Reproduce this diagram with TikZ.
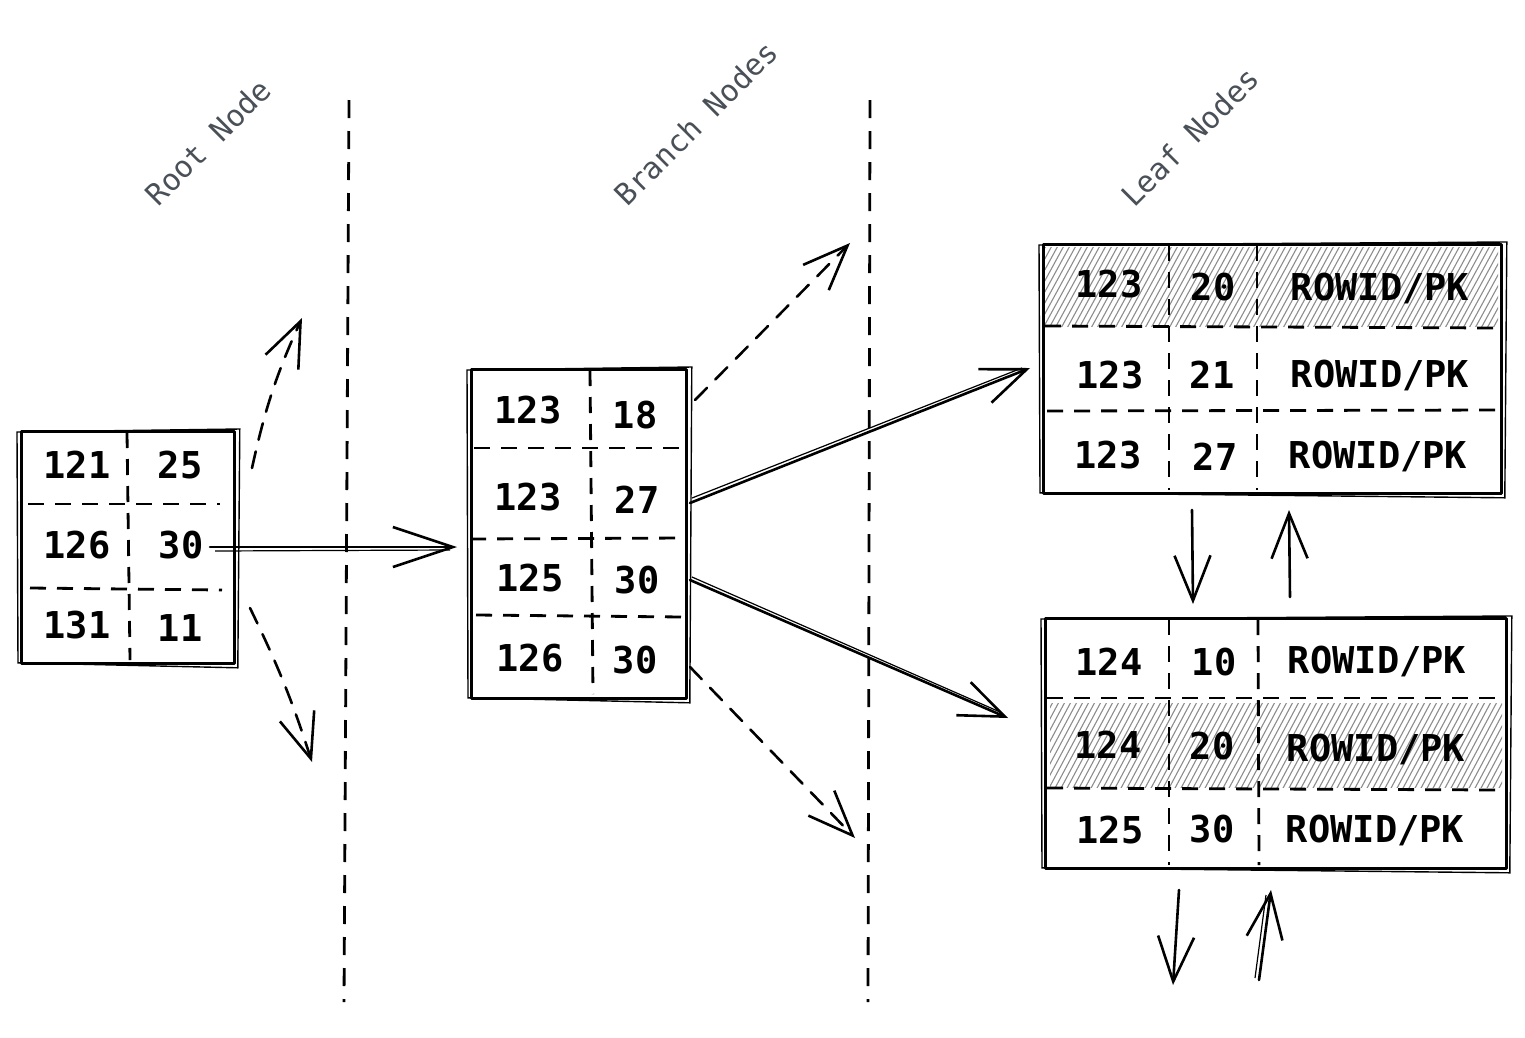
\documentclass[tikz,border=0pt]{standalone}
\usepackage{fontspec}
\setmonofont{DejaVu Sans Mono}
\usetikzlibrary{arrows.meta}
\definecolor{labelgray}{HTML}{495057}
\definecolor{hatchgray}{HTML}{8C8C8C}
\tikzset{
  x=1pt, y=-1pt,
  cell/.style={font=\ttfamily\bfseries\fontsize{37}{40}\selectfont, inner sep=0pt, anchor=center},
  lbl/.style={font=\ttfamily\fontsize{30}{34}\selectfont, text=labelgray, rotate=45, inner sep=0pt},
  boxframe/.style={draw, line width=2.8pt, line join=round, inner sep=0pt, anchor=north west},
  frame2/.style={line width=1.4pt},
  divider/.style={line width=2.8pt, dash pattern=on 16pt off 11pt},
  sepline/.style={line width=2.8pt, dash pattern=on 18pt off 13pt},
  link/.style={line width=2.6pt, line cap=round, -{Straight Barb[length=45pt,width=36pt]}},
  dlink/.style={link, dash pattern=on 17pt off 12pt},
  hatch/.style={hatchgray, line width=1.1pt},
}
\begin{document}
\begin{tikzpicture}
\useasboundingbox (0,0) rectangle (1525,1037);

% ---------- labels ----------
\node[lbl] (lroot) at (208,142) {Root Node};
\node[lbl] (lbranch) at (696,123) {Branch Nodes};
\node[lbl] (lleaf) at (1190,137) {Leaf Nodes};

% ---------- separators ----------
\coordinate (s1t) at (349,100); \coordinate (s1b) at (344,1002);
\coordinate (s2t) at (870,100); \coordinate (s2b) at (868,1002);
\draw[sepline] (s1t) -- (s1b);
\draw[sepline] (s2t) -- (s2b);

% ---------- hatching ----------
\begin{scope}
  \clip (1045,247) rectangle (1498,326);
  \foreach \i in {0,6,...,520} { \draw[hatch] (1000+\i,330) -- ++(48,-88); }
\end{scope}
\begin{scope}
  \clip (1050,703) rectangle (1502,787);
  \foreach \i in {0,6,...,520} { \draw[hatch] (1000+\i,790) -- ++(48,-90); }
\end{scope}

% ---------- boxes ----------
\node[boxframe, minimum width=213pt, minimum height=232pt] (root) at (20,430) {};
\node[boxframe, minimum width=215pt, minimum height=329pt] (branch) at (470,368) {};
\node[boxframe, minimum width=458pt, minimum height=249pt] (leafA) at (1042,243) {};
\node[boxframe, minimum width=461pt, minimum height=250pt] (leafB) at (1044,617) {};
\foreach \b in {root,branch,leafA,leafB} {
  \draw[frame2] ([shift={(-3,2)}]\b.north west) -- ([shift={(4,-1)}]\b.north east)
     -- ([shift={(2,3)}]\b.south east) -- ([shift={(-2,-2)}]\b.south west) -- cycle;
}

% ---------- dividers ----------
% root
\draw[divider] (28,504) -- (220,504);
\draw[divider] (30,588) -- (222,590);
\draw[divider] (127,432) -- (130,660);
% branch
\draw[divider] (474,448) -- (688,448);
\draw[divider] (470,539) -- (684,538);
\draw[divider] (476,615) -- (684,617);
\draw[divider] (590,370) -- (593,694);
% leaf A
\draw[divider] (1045,326) -- (1500,328);
\draw[divider] (1047,411) -- (1502,410);
\draw[divider] (1169,245) -- (1169,490);
\draw[divider] (1257,245) -- (1257,490);
% leaf B
\draw[divider] (1047,698) -- (1500,698);
\draw[divider] (1047,788) -- (1502,790);
\draw[divider] (1169,619) -- (1169,865);
\draw[divider] (1258,619) -- (1259,865);

% ---------- cell texts ----------
\node[cell] (r11) at (77,465) {121};  \node[cell] (r12) at (180,465) {25};
\node[cell] (r21) at (77,545) {126};  \node[cell] (r22) at (181,545) {30};
\node[cell] (r31) at (77,625) {131};  \node[cell] (r32) at (180,628) {11};

\node[cell] (b11) at (528,410) {123}; \node[cell] (b12) at (635,415) {18};
\node[cell] (b21) at (528,497) {123}; \node[cell] (b22) at (637,500) {27};
\node[cell] (b31) at (530,578) {125}; \node[cell] (b32) at (637,580) {30};
\node[cell] (b41) at (530,658) {126}; \node[cell] (b42) at (635,660) {30};

\node[cell] (a11) at (1109,284) {123}; \node[cell] (a12) at (1213,287) {20}; \node[cell] (a13) at (1380,288) {ROWID/PK};
\node[cell] (a21) at (1110,375) {123}; \node[cell] (a22) at (1212,375) {21}; \node[cell] (a23) at (1380,375) {ROWID/PK};
\node[cell] (a31) at (1108,455) {123}; \node[cell] (a32) at (1215,457) {27}; \node[cell] (a33) at (1378,456) {ROWID/PK};

\node[cell] (c11) at (1109,662) {124}; \node[cell] (c12) at (1214,662) {10}; \node[cell] (c13) at (1377,661) {ROWID/PK};
\node[cell] (c21) at (1108,745) {124}; \node[cell] (c22) at (1212,746) {20}; \node[cell] (c23) at (1376,749) {ROWID/PK};
\node[cell] (c31) at (1110,830) {125}; \node[cell] (c32) at (1212,829) {30}; \node[cell] (c33) at (1375,830) {ROWID/PK};

% ---------- connectors ----------
\coordinate (ru0) at (252,468); \coordinate (ru1) at (302,318);
\coordinate (rd0) at (250,608); \coordinate (rd1) at (312,762);
\coordinate (rb0) at (210,547); \coordinate (rb1) at (457,547);
\coordinate (bu0) at (695,400); \coordinate (bu1) at (850,243);
\coordinate (ba0) at (690,503); \coordinate (ba1) at (1030,368);
\coordinate (bb0) at (690,580); \coordinate (bb1) at (1008,718);
\coordinate (bd0) at (690,667); \coordinate (bd1) at (855,838);
\coordinate (ad0) at (1192,510); \coordinate (ad1) at (1193,604);
\coordinate (bu2) at (1290,597); \coordinate (bu3) at (1289,510);
\coordinate (ed0) at (1179,890); \coordinate (ed1) at (1173,985);
\coordinate (eu0) at (1259,980); \coordinate (eu1) at (1271,890);

\draw[dlink] (ru0) to[bend left=6] (ru1);
\draw[dlink] (rd0) to[bend left=4] (rd1);
\draw[link, -{Straight Barb[length=60pt,width=40pt]}] (rb0) -- (rb1);
\draw[line width=1.2pt] (215,551) -- (450,550);
\draw[dlink] (bu0) -- (bu1);
\draw[link] (ba0) -- (ba1);
\draw[line width=1.2pt] (692,498) -- (1022,368);
\draw[link] (bb0) -- (bb1);
\draw[line width=1.2pt] (692,577) -- (1000,712);
\draw[dlink] (bd0) -- (bd1);
\draw[link] (ad0) -- (ad1);
\draw[link] (bu2) -- (bu3);
\draw[link] (ed0) -- (ed1);
\draw[link] (eu0) -- (eu1);
\draw[line width=1.2pt] (1255,978) -- (1266,895);
\end{tikzpicture}
\end{document}
